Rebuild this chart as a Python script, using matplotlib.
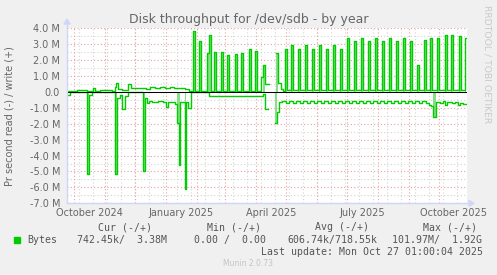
import numpy as np
import matplotlib.pyplot as plt
import matplotlib.dates as mdates
from matplotlib.patches import Rectangle, Polygon
from datetime import datetime

# days since 2024-09-24, values in MB/s
write_day = [0, 3, 10, 12, 20, 23, 26, 28, 33, 37, 40, 45, 48, 49, 51, 55, 61, 64,
             73, 79, 83, 88, 93, 98, 103, 107, 113, 118, 122,
             126, 128, 132, 134, 140, 142, 144, 147, 149, 154, 156, 160, 162,
             168, 170, 174, 176, 182, 184, 188, 190, 194, 196, 198, 202,
             209, 211, 214, 216, 218, 220, 224, 226, 231, 233, 238, 240,
             245, 247, 252, 254, 259, 261, 266, 268, 273, 275, 280, 282,
             287, 289, 294, 296, 301, 303, 308, 310, 315, 317, 322, 324,
             329, 331, 336, 338, 343, 345, 350, 352, 357, 359, 363, 365,
             370, 372, 378, 380, 384, 386, 392, 394, 398, 399]
write_val = [0.05, 0.08, 0.15, 0.1, 0.05, 0.08, 0.26, 0.04, 0.1, 0.15, 0.1, 0.05, 0.3, 0.55, 0.2, 0.15, 0.47, 0.22,
             0.25, 0.2, 0.28, 0.22, 0.3, 0.25, 0.32, 0.25, 0.22, 0.2, 0.08,
             3.82, 0.05, 3.19, 0.05, 2.42, 3.61, 0.05, 2.48, 0.05, 2.48, 0.05, 2.35, 0.05,
             2.4, 0.05, 2.44, 0.05, 2.73, 0.05, 2.56, 0.05, 0.95, 1.68, 0.53, np.nan,
             2.42, 0.59, 0.21, 0.08, 2.73, 0.1, 2.94, 0.1, 2.73, 0.1, 2.94, 0.1,
             2.73, 0.1, 2.94, 0.1, 2.73, 0.1, 2.94, 0.1, 2.73, 0.1, 3.36, 0.1,
             3.19, 0.1, 3.36, 0.1, 3.19, 0.1, 3.36, 0.1, 3.19, 0.1, 3.36, 0.1,
             3.19, 0.1, 3.36, 0.1, 3.19, 0.1, 1.68, 0.1, 3.26, 0.1, 3.36, 0.1,
             3.36, 0.1, 3.57, 0.1, 3.57, 0.1, 3.51, 0.1, 3.36, 3.36]

read_day = [0, 3, 20, 22, 25, 48, 50, 53, 55, 58, 61, 76, 78, 80, 82, 85, 91, 96,
            99, 101, 105, 108, 110, 112, 113, 118, 119, 121, 124, 142, 196, 198, 201,
            208, 210, 212, 215, 219, 222, 226, 229, 233, 236, 240, 243, 247, 250,
            254, 257, 261, 264, 268, 271, 275, 278, 282, 285, 289, 292, 296, 299,
            303, 306, 310, 313, 317, 320, 324, 327, 331, 334, 338, 341, 345, 348,
            352, 355, 359, 362, 364, 366, 369, 373, 376, 378, 380, 385, 388, 391,
            393, 396, 399]
read_val = [0.2, 0.02, 5.13, 0.2, 0.02, 5.13, 0.37, 0.2, 1.1, 0.25, 0.03, 5.0, 0.41, 0.7, 0.58, 0.62, 0.6, 0.62,
            0.94, 0.62, 0.65, 0.75, 1.98, 4.6, 0.64, 6.08, 0.64, 1.04, 0.02, 0.26, 0.15, 1.1, np.nan,
            1.98, 1.25, 0.66, 0.6, 0.72, 0.6, 0.72, 0.6, 0.72, 0.6, 0.72, 0.6, 0.72, 0.6,
            0.72, 0.6, 0.72, 0.6, 0.72, 0.6, 0.72, 0.6, 0.72, 0.6, 0.72, 0.6, 0.72, 0.6,
            0.72, 0.6, 0.72, 0.6, 0.72, 0.6, 0.72, 0.6, 0.72, 0.6, 0.72, 0.6, 0.72, 0.6,
            0.72, 0.6, 0.72, 0.8, 0.9, 1.57, 0.62, 0.72, 0.6, 0.8, 0.62, 0.72, 0.65, 0.8,
            0.68, 0.74, 0.74]

y_ticks = [4, 3, 2, 1, 0, -1, -2, -3, -4, -5, -6, -7]
y_labels = ['4.0 M', '3.0 M', '2.0 M', '1.0 M', '0.0', '-1.0 M', '-2.0 M',
            '-3.0 M', '-4.0 M', '-5.0 M', '-6.0 M', '-7.0 M']
x_labels = ['October 2024', 'January 2025', 'April 2025', 'July 2025', 'October 2025']
x_label_dates = [datetime(2024, 10, 16), datetime(2025, 1, 16), datetime(2025, 4, 16),
                 datetime(2025, 7, 16), datetime(2025, 10, 16)]

W, H = 497, 275
GREEN = '#00CC00'
FONT = '#666666'

def fx(px):
    return px / W

def fy(py):
    return 1 - py / H

t0 = mdates.date2num(datetime(2024, 9, 24))
wx = t0 + np.array(write_day, dtype=float)
wy = np.array(write_val)
rx = t0 + np.array(read_day, dtype=float)
ry = -np.array(read_val)

fig = plt.figure(figsize=(W / 100, H / 100), dpi=100, facecolor='#F0F0F0')
ax = fig.add_axes([fx(67), fy(203.3), 400 / W, 175 / H])
ax.set_facecolor('white')
ax.set_xlim(t0, t0 + 400)
ax.set_ylim(-7, 4)

# grid: 0.5M minor / 1M major, 2-week minor / month major
for v in np.arange(-7, 4.01, 0.5):
    major = abs(v - round(v)) < 1e-9
    ax.axhline(v, color='#E8A0A0' if major else '#D4D4D4', lw=0.8,
               ls=(0, (1, 2)), zorder=1)
d = datetime(2024, 10, 6)
while mdates.date2num(d) < t0 + 400:
    ax.axvline(mdates.date2num(d), color='#D4D4D4', lw=0.8, ls=(0, (1, 2)), zorder=1)
    d = datetime.fromordinal(d.toordinal() + 14)
for y, m in [(2024, 10), (2024, 11), (2024, 12)] + [(2025, k) for k in range(1, 11)]:
    ax.axvline(mdates.date2num(datetime(y, m, 1)), color='#E8A0A0', lw=0.8,
               ls=(0, (1, 2)), zorder=1.5)

# series
light = '#86E086'
ax.fill_between(wx, 0, np.where(wy > 1.5, wy, 0), step='post', color=light, lw=0, zorder=2)
ax.fill_between(rx, 0, np.where(ry < -1.5, ry, 0), step='post', color=light, lw=0, zorder=2)
ax.plot(wx, wy, drawstyle='steps-post', color=GREEN, lw=1.0, zorder=3)
ax.plot(rx, ry, drawstyle='steps-post', color=GREEN, lw=1.0, zorder=3)
ax.axhline(0, color='black', lw=0.75, zorder=4)

for s in ax.spines.values():
    s.set_visible(False)
ax.set_yticks(y_ticks)
ax.set_yticklabels(y_labels)
ax.set_xticks([mdates.date2num(d) for d in x_label_dates])
ax.set_xticklabels(x_labels)
ax.tick_params(length=0, labelsize=7, labelcolor=FONT)
ax.tick_params(axis='y', pad=5)
ax.tick_params(axis='x', pad=3.5)

# axes lines with arrows
AX = '#CFD6F8'
fig.add_artist(plt.Line2D([fx(67), fx(67)], [fy(203.3), fy(24)], color=AX, lw=1))
fig.add_artist(plt.Line2D([fx(67), fx(470)], [fy(203.3), fy(203.3)], color=AX, lw=1))
fig.add_artist(Polygon([[fx(64), fy(24)], [fx(70), fy(24)], [fx(67), fy(19)]],
                       closed=True, color=AX, transform=fig.transFigure))
fig.add_artist(Polygon([[fx(469), fy(200.3)], [fx(469), fy(206.3)], [fx(474), fy(203.3)]],
                       closed=True, color=AX, transform=fig.transFigure))

fig.text(fx(248.3), fy(23.3), 'Disk throughput for /dev/sdb - by year', ha='center',
         va='baseline', fontsize=9, color=FONT)
fig.text(fx(10), fy(115.8), 'Pr second read (-) / write (+)', rotation=90, ha='center',
         va='center', fontsize=7, color=FONT)
fig.text(fx(487), fy(5), 'RRDTOOL / TOBI OETIKER', rotation=270, ha='center', va='top',
         fontsize=6.7, color='#CACACA')

mono = dict(family='DejaVu Sans Mono', fontsize=7.1, color='#555555', va='center')
for x, s in [(98, 'Cur (-/+)'), (207, 'Min (-/+)'), (315, 'Avg (-/+)'), (423, 'Max (-/+)')]:
    fig.text(fx(x), fy(227.3), s, ha='left', **mono)
fig.add_artist(Rectangle((fx(14), fy(243)), 6 / W, 6 / H, color=GREEN,
                         transform=fig.transFigure))
for x, s in [(27, 'Bytes'), (77, '742.45k/  3.38M'), (194, '0.00 /  0.00'),
             (287, '606.74k/718.55k'), (392, '101.97M/  1.92G')]:
    fig.text(fx(x), fy(240), s, ha='left', **mono)
fig.text(fx(483), fy(251.7), 'Last update: Mon Oct 27 01:00:04 2025', ha='right', **mono)
fig.text(fx(248), fy(264), 'Munin 2.0.73', ha='center', va='center', fontsize=5.5,
         color='#C4C4C4')

fig.savefig('out.png', dpi=100, facecolor=fig.get_facecolor())
